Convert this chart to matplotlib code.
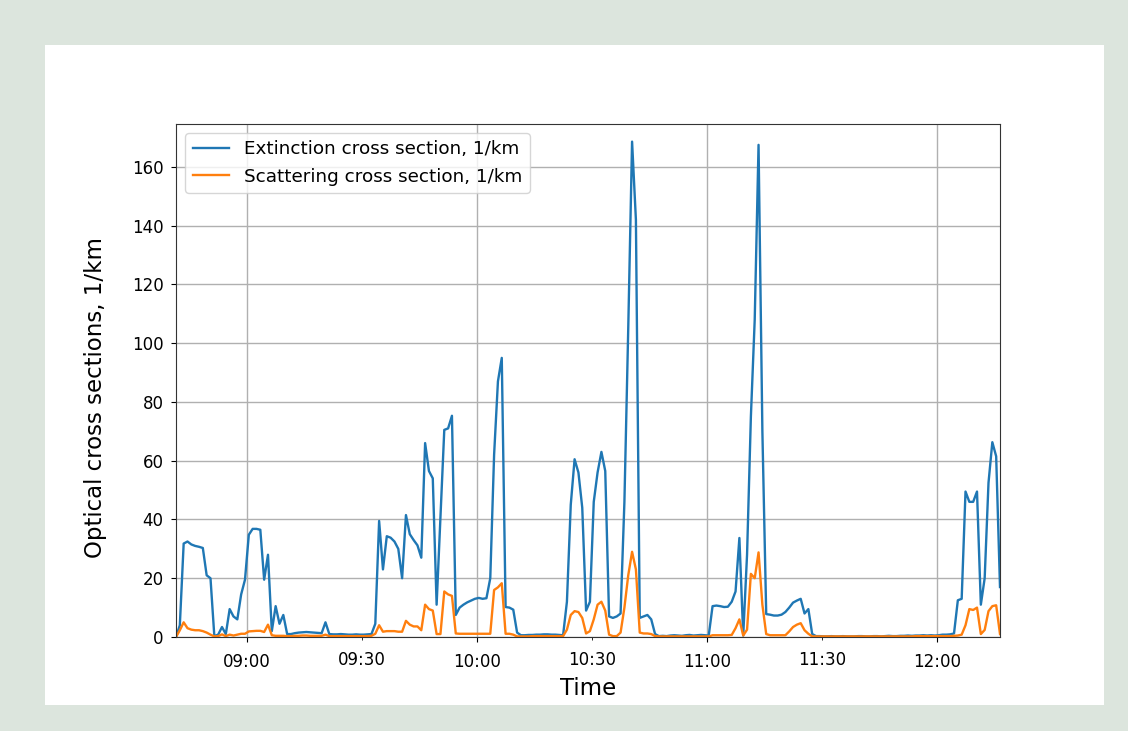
import matplotlib
matplotlib.use("Agg")
import matplotlib.pyplot as plt
import matplotlib.dates as mdates
from matplotlib.patches import Rectangle
from datetime import datetime, timedelta

# Extinction cross section, 1/km (one sample per minute from 08:41:30)
extinction = [
    0, 4, 31.8, 32.5, 31.5, 31, 30.7, 30.3, 21, 20,
    0.3, 0.8, 3.4, 1, 9.5, 7, 6, 14.5, 19.5, 34.8,
    36.8, 36.8, 36.5, 19.5, 28, 2, 10.5, 4.5, 7.5, 1,
    1.0, 1.3, 1.5, 1.6, 1.7, 1.6, 1.5, 1.4, 1.3, 5,
    1.0, 0.9, 0.9, 1.0, 0.9, 0.8, 0.8, 0.9, 0.8, 0.8,
    0.9, 1.0, 4.5, 39.5, 23, 34.3, 33.8, 32.5, 30, 20,
    41.5, 35, 33, 31.2, 27, 66, 56.5, 54, 11, 41,
    70.5, 71, 75.3, 7.5, 10, 11, 11.8, 12.4, 13, 13.3,
    13, 13.2, 20, 62, 87, 95, 10.2, 10, 9.3, 1.5,
    0.6, 0.6, 0.7, 0.7, 0.8, 0.8, 0.9, 0.9, 0.8, 0.8,
    0.7, 0.6, 12, 45, 60.5, 56, 44, 9, 12, 46,
    56, 63, 56.5, 7, 6.5, 7, 8, 46, 105, 168.6,
    142, 6.5, 7, 7.5, 6, 1, 0.3, 0.4, 0.3, 0.5,
    0.6, 0.5, 0.4, 0.6, 0.7, 0.5, 0.6, 0.7, 0.6, 0.5,
    10.5, 10.7, 10.5, 10.2, 10.3, 12, 15.5, 33.7, 0.5, 28,
    75, 108, 167.5, 70, 7.8, 7.6, 7.3, 7.3, 7.6, 8.5,
    10, 11.7, 12.4, 13, 8, 9.5, 1, 0.3, 0.3, 0.2,
    0.2, 0.3, 0.2, 0.2, 0.3, 0.2, 0.2, 0.2, 0.3, 0.3,
    0.2, 0.2, 0.3, 0.3, 0.2, 0.3, 0.4, 0.3, 0.3, 0.4,
    0.4, 0.5, 0.4, 0.5, 0.5, 0.6, 0.5, 0.6, 0.5, 0.6,
    0.8, 0.8, 0.9, 1.2, 12.5, 13, 49.5, 46, 46, 49.5,
    11, 20, 52.5, 66.3, 61.5, 17,
]

# Scattering cross section, 1/km (same sampling)
scattering = [
    0, 2.3, 5, 3, 2.5, 2.3, 2.3, 2, 1.5, 0.8,
    0.2, 0.3, 0.9, 0.3, 0.8, 0.5, 0.8, 1.1, 1.1, 1.9,
    2, 2.1, 2.1, 1.7, 4.2, 0.6, 0.4, 0.4, 0.4, 0.3,
    0.3, 0.4, 0.4, 0.5, 0.5, 0.4, 0.4, 0.4, 0.4, 0.8,
    0.3, 0.3, 0.3, 0.3, 0.3, 0.3, 0.3, 0.3, 0.3, 0.3,
    0.3, 0.4, 1.1, 4, 1.8, 2, 2, 2, 1.8, 1.8,
    5.5, 4.2, 3.6, 3.6, 2.3, 11, 9.5, 9, 1, 1,
    15.5, 14.5, 14, 1.2, 1.1, 1.1, 1.1, 1.1, 1.1, 1.1,
    1.1, 1.1, 1.1, 16, 16.9, 18.3, 1.1, 1.1, 0.8, 0.2,
    0.2, 0.2, 0.2, 0.3, 0.3, 0.3, 0.3, 0.3, 0.3, 0.3,
    0.3, 0.3, 2.5, 7.5, 8.8, 8.5, 6.5, 1.2, 2, 6,
    11, 12, 9, 0.8, 0.3, 0.3, 1.5, 10, 21, 29,
    23, 1.5, 1.2, 1.2, 1, 0.3, 0.2, 0.2, 0.2, 0.2,
    0.2, 0.2, 0.2, 0.2, 0.2, 0.2, 0.2, 0.2, 0.2, 0.2,
    0.6, 0.6, 0.6, 0.6, 0.6, 0.7, 3, 6, 0.5, 2.5,
    21.5, 20, 28.8, 11, 1, 0.6, 0.6, 0.6, 0.6, 0.6,
    1.9, 3.4, 4.2, 4.7, 2.3, 1.1, 0.2, 0.2, 0.2, 0.2,
    0.2, 0.2, 0.2, 0.2, 0.2, 0.2, 0.2, 0.2, 0.2, 0.2,
    0.2, 0.2, 0.2, 0.2, 0.2, 0.2, 0.2, 0.2, 0.2, 0.2,
    0.2, 0.2, 0.2, 0.3, 0.3, 0.3, 0.3, 0.3, 0.3, 0.3,
    0.3, 0.3, 0.3, 0.4, 0.5, 0.8, 4, 9.5, 9.2, 10,
    1, 2.4, 8.8, 10.5, 10.8, 1,
]

start_time = datetime(2018, 6, 1, 8, 41, 30)
times = [start_time + timedelta(minutes=i) for i in range(len(extinction))]

series_labels = ["Extinction cross section, 1/km", "Scattering cross section, 1/km"]
y_ticks = [0, 20, 40, 60, 80, 100, 120, 140, 160]

W, H = 1128, 731
fig = plt.figure(figsize=(W / 100, H / 100), dpi=100, facecolor="#dce5dd")
# white card behind the plot
card = Rectangle((45 / W, 1 - 705 / H), (1104 - 45) / W, (705 - 45) / H,
                 transform=fig.transFigure, facecolor="white",
                 edgecolor="none", zorder=-10)
fig.patches.append(card)

ax = fig.add_axes([176 / W, 1 - 637 / H, (1000 - 176) / W, (637 - 124) / H])
ax.set_zorder(1)
ax.plot(times, extinction, color="#1f77b4", lw=1.7, label=series_labels[0])
ax.plot(times, scattering, color="#ff7f0e", lw=1.7, label=series_labels[1])

ax.set_xlim(times[0], times[-1])
ax.set_ylim(0, 174.6)
ax.set_yticks(y_ticks)

ax.xaxis.set_major_locator(mdates.HourLocator())
ax.xaxis.set_major_formatter(mdates.DateFormatter("%H:%M"))
ax.xaxis.set_minor_locator(mdates.MinuteLocator(byminute=[30]))
ax.xaxis.set_minor_formatter(mdates.DateFormatter("%H:%M"))

ax.grid(True, which="major", color="#b0b0b0", lw=1.0)
ax.tick_params(axis="x", which="both", labelsize=12, pad=8)
ax.tick_params(axis="y", labelsize=12, pad=5.5)
for side in ax.spines.values():
    side.set_color("#333333")

ax.set_xlabel("Time", fontsize=16.5)
ax.set_ylabel("Optical cross sections, 1/km", fontsize=16.5)
ax.yaxis.set_label_coords(-0.084, 0.466)
ax.legend(loc="upper left", fontsize=13.2)

fig.savefig("out.png", dpi=100, facecolor=fig.get_facecolor())
